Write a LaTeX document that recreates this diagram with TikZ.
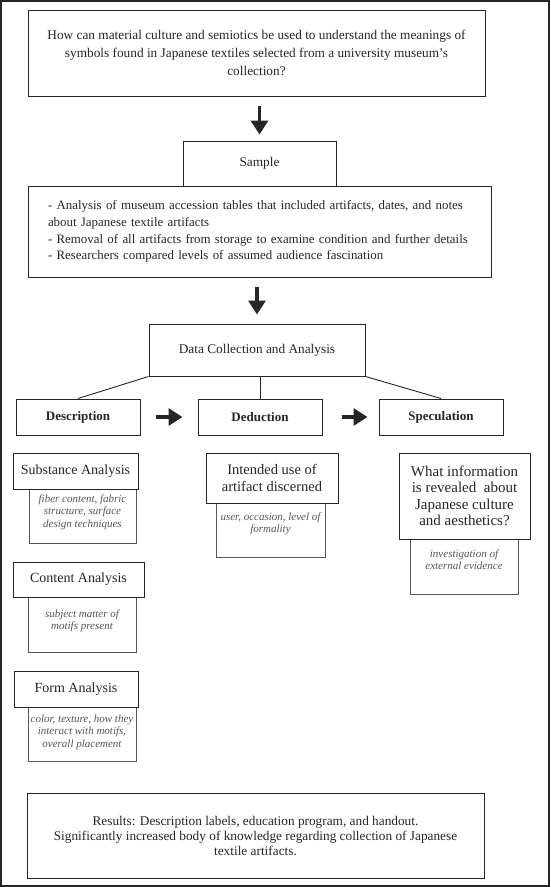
\documentclass[tikz,border=0pt]{standalone}
\usepackage{fontspec}
\setmainfont{Liberation Serif}
\usetikzlibrary{arrows.meta}
\definecolor{ink}{HTML}{262626}
\definecolor{soft}{HTML}{555555}
\newcommand{\subtxt}[4]{\parbox[t][#1pt][t]{#2pt}{\centering\vspace*{#3pt}#4}}
\begin{document}
\begin{tikzpicture}[x=1pt,y=-1pt,
  box/.style={draw=ink, line width=1pt, fill=white, inner sep=0pt, align=center, text=ink, font=\fontsize{13.3}{18}\selectfont},
  head/.style={box, font=\fontsize{14}{16.5}\selectfont},
  lbl/.style={box, font=\fontsize{13}{15}\selectfont\bfseries},
  subbox/.style={draw=soft, line width=1pt, fill=white, inner sep=0pt, anchor=north, text=soft, font=\fontsize{11}{12.5}\selectfont\itshape},
  bigarrow/.style={draw=ink, line width=3.2pt, -{Triangle[width=17pt,length=14pt]}},
  link/.style={draw=ink, line width=0.9pt}]
\useasboundingbox (0,0) rectangle (550,887);
\draw[draw=ink, line width=1.5pt] (1,1) rectangle (549,886);

\node[box, minimum width=457, minimum height=86] (q) at (256.5,53)
  {How can material culture and semiotics be used to understand the meanings of\\
   symbols found in Japanese textiles selected from a university museum's\\
   collection?};
\node[box, minimum width=463, minimum height=91, inner xsep=20pt, text width=423pt, align=left,
      font=\fontsize{12.9}{16.7}\selectfont] (det) at (259.5,231.5)
  {- Analysis of museum accession tables that included artifacts, dates, and notes\\
   about Japanese textile artifacts\\
   - Removal of all artifacts from storage to examine condition and further details\\
   - Researchers compared levels of assumed audience fascination};
\node[box, minimum width=153, minimum height=45] (sample) at (259.5,163.5) {Sample};
\node[box, minimum width=216, minimum height=52] (dc) at (257,350) {Data Collection and Analysis};

\node[lbl, minimum width=124, minimum height=36] (desc) at (78,417) {Description};
\node[lbl, minimum width=124, minimum height=36] (ded) at (260,417) {Deduction};
\node[lbl, minimum width=124, minimum height=36] (spec) at (441,417) {Speculation};

\draw[bigarrow, shorten <=9pt, shorten >=6pt] (q.south -| sample.north) -- (sample.north);
\draw[bigarrow, shorten <=9pt, shorten >=9pt] (det.south -| dc.north) -- (dc.north);
\draw[link] (dc.south west) -- (desc.north);
\draw[link] (dc.south -| ded.north) -- (ded.north);
\draw[link] (dc.south east) -- (spec.north);
\draw[bigarrow, shorten <=15pt, shorten >=15pt] (desc.east) -- (ded.west);
\draw[bigarrow, shorten <=19pt, shorten >=11pt] (ded.east) -- (spec.west);

% Description column
\node[subbox] (s1b) at (82.5,489) {\subtxt{54}{107}{5}{fiber content, fabric\\ structure, surface\\ design techniques}};
\node[head, minimum width=125, minimum height=36] (s1h) at (75.5,471) {Substance Analysis};
\node[subbox] (s2b) at (82,597) {\subtxt{55}{108}{12}{subject matter of\\ motifs present}};
\node[head, minimum width=131, minimum height=35] (s2h) at (78.5,579.5) {Content Analysis};
\node[subbox] (s3b) at (82,707) {\subtxt{54}{108}{7}{color, texture, how they\\ interact with motifs,\\ overall placement}};
\node[head, minimum width=124, minimum height=36] (s3h) at (76,689) {Form Analysis};

% Deduction column
\node[subbox] (d1b) at (270.5,503) {\subtxt{54}{109}{9}{user, occasion, level of\\ formality}};
\node[head, font=\fontsize{14.5}{16.5}\selectfont, minimum width=132, minimum height=50] (d1h) at (272,478) {Intended use of\\ artifact discerned};

% Speculation column
\node[subbox] (p1b) at (464,539) {\subtxt{55}{108}{10}{investigation of\\ external evidence}};
\node[head, font=\fontsize{15}{16.5}\selectfont, minimum width=131, minimum height=86] (p1h) at (464.5,496) {What information\\ is revealed\ \ about\\ Japanese culture\\ and aesthetics?};

% Results
\node[box, minimum width=457, minimum height=85, font=\fontsize{13.3}{15}\selectfont] (res) at (255.5,835.5)
  {Results: Description labels, education program, and handout.\\
   Significantly increased body of knowledge regarding collection of Japanese\\
   textile artifacts.};
\end{tikzpicture}
\end{document}
